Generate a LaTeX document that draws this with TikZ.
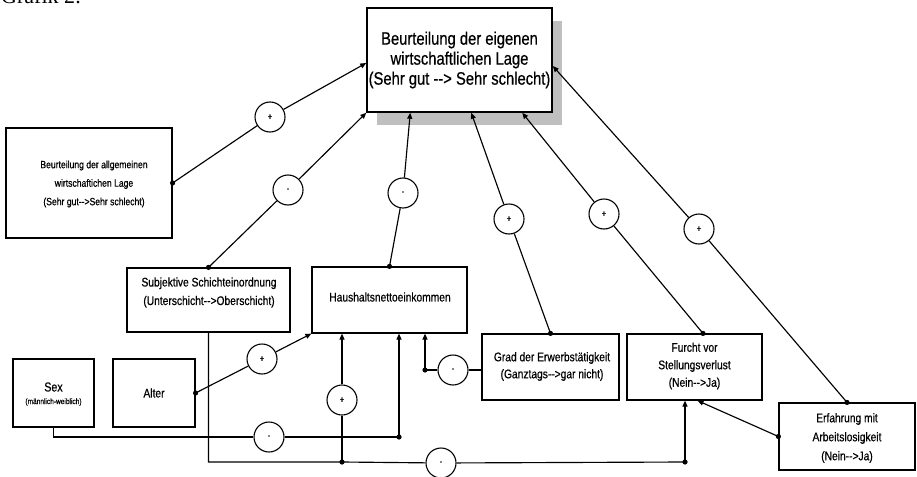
\documentclass[tikz,border=0pt]{standalone}
\usepackage{fontspec}
\setmainfont{Liberation Serif}
\newfontfamily\nar[FakeStretch=0.82,FakeBold=0.6]{Liberation Sans}
\usetikzlibrary{arrows.meta,calc,shadows,patterns}
\newcommand\jdot[1]{\fill (#1) circle (2.6pt);}
\begin{document}
\begin{tikzpicture}[x=1pt,y=-1pt,
 box/.style={draw, line width=1.2pt, inner sep=0pt, fill=white},
 txt/.style={font=\nar\fontsize{12.5}{18.5}\selectfont, align=center, inner sep=0pt},
 sign/.style={circle, draw, line width=1.1pt, minimum size=30pt, inner sep=0pt, font=\nar\fontsize{9}{9}\selectfont, fill=white},
 conn/.style={line width=1.15pt},
 arr/.style={conn, -{Triangle[length=6pt,width=5pt]}},
]
\useasboundingbox (0,0) rectangle (917,476);
\node[anchor=base west, inner sep=0pt, font=\fontsize{22}{24}\selectfont] (title) at (1,4) {Grafik 2:};

% main box
\node[box, minimum width=185pt, minimum height=104pt, line width=1.5pt,
  general shadow={fill=gray!50, shadow xshift=10pt, shadow yshift=-13pt}] (main) at (459.5,60) {};
\node[txt, font=\nar\fontsize{18}{20}\selectfont] (maint) at (459.5,60) {Beurteilung der eigenen\\wirtschaftlichen Lage\\(Sehr gut -{}-> Sehr schlecht)};

% boxes
\node[box, minimum width=166pt, minimum height=110pt] (left) at (89,183) {};
\node[txt, font=\nar\fontsize{10.5}{18.5}\selectfont] (leftt) at (94,184) {Beurteilung der allgemeinen\\wirtschaftichen Lage\\(Sehr gut-{}->Sehr schlecht)};

\node[box, minimum width=163pt, minimum height=64pt] (subj) at (208.5,300) {};
\node[txt] (subjt) at (209,292.5) {Subjektive Schichteinordnung\\(Unterschicht-{}->Oberschicht)};

\node[box, minimum width=155pt, minimum height=66pt] (haus) at (389.5,300) {};
\node[txt] (haust) at (390,297) {Haushaltsnettoeinkommen};

\node[box, minimum width=81pt, minimum height=68pt] (sex) at (53.5,393) {};
\node[txt, font=\nar\fontsize{13}{18}\selectfont] (sext) at (53.5,387) {Sex};
\node[txt, font=\nar\fontsize{8}{9}\selectfont] (sexs) at (53.5,402) {(männlich-weiblich)};

\node[box, minimum width=82pt, minimum height=68pt] (alter) at (154,393) {};
\node[txt] (altert) at (154,393) {Alter};

\node[box, minimum width=137pt, minimum height=66pt] (grad) at (550.5,367) {};
\node[txt, font=\nar\fontsize{12.5}{17}\selectfont] (gradt) at (552,366.5) {Grad der Erwerbstätigkeit\\(Ganztags-{}->gar nicht)};

\node[box, minimum width=135pt, minimum height=66pt] (furcht) at (694.5,367) {};
\node[txt, font=\nar\fontsize{12.5}{17.5}\selectfont] (furchtt) at (694.5,366) {Furcht vor\\Stellungsverlust\\(Nein-{}->Ja)};

\node[box, minimum width=136pt, minimum height=67pt] (erf) at (847,436.5) {};
\node[txt, font=\nar\fontsize{12.5}{19}\selectfont] (erft) at (847,438) {Erfahrung mit\\Arbeitslosigkeit\\(Nein-{}->Ja)};

% sign circles
\node[sign] (c1) at (270,117) {+};
\node[sign] (c2) at (288,190) {-};
\node[sign] (c3) at (403,193) {-};
\node[sign] (c4) at (509,219) {+};
\node[sign] (c5) at (604,214) {+};
\node[sign] (c6) at (699,229) {+};
\node[sign] (c7) at (262,359) {+};
\node[sign] (c8) at (342,400) {+};
\node[sign] (c9) at (269,437) {-};
\node[sign] (c10) at (441,463) {-};
\node[sign] (c11) at (453,370) {-};

\coordinate (d1) at (342,462);
\coordinate (d2) at (685,462);
\coordinate (d3) at (399,437);
\coordinate (d4) at (425,370);

% to main box
\draw[arr] (left.east) -- (c1) -- ([yshift=-3pt]main.west);
\draw[arr] (subj.north) -- (c2) -- (main.south west);
\draw[arr] (haus.north) -- (c3) -- ([xshift=44pt]main.south west);
\draw[arr] (grad.north) -- (c4) -- ([xshift=105pt]main.south west);
\draw[arr] ([xshift=8.5pt]furcht.north) -- (c5) -- ([xshift=156pt]main.south west);
\draw[arr] (erf.north) -- (c6) -- ([yshift=-6pt]main.east);

% lower connections
\draw[arr] (alter.east) -- (c7) -- (haus.south west);
\draw[conn] (subj.south) |- (d1) -- (c10) -- (d2);
\draw[arr] (d2) -- (d2 |- furcht.south);
\draw[arr] (d1) -- (c8) -- (d1 |- haus.south);
\draw[conn] (sex.south) |- (c9) -- (d3);
\draw[arr] (d3) -- (d3 |- haus.south);
\draw[conn] ([yshift=-3pt]grad.west) -- (c11) -- (d4);
\draw[arr] (d4) -- (d4 |- haus.south);
\draw[arr] (erf.west) -- ([xshift=3pt]furcht.south);

% dots
\jdot{left.east}
\jdot{subj.north}
\jdot{haus.north}
\jdot{grad.north}
\jdot{$(furcht.north)+(8.5,0)$}
\jdot{erf.north}
\jdot{alter.east}
\jdot{d1}
\jdot{d2}
\jdot{d3}
\jdot{d4}
\jdot{erf.west}
\end{tikzpicture}
\end{document}
